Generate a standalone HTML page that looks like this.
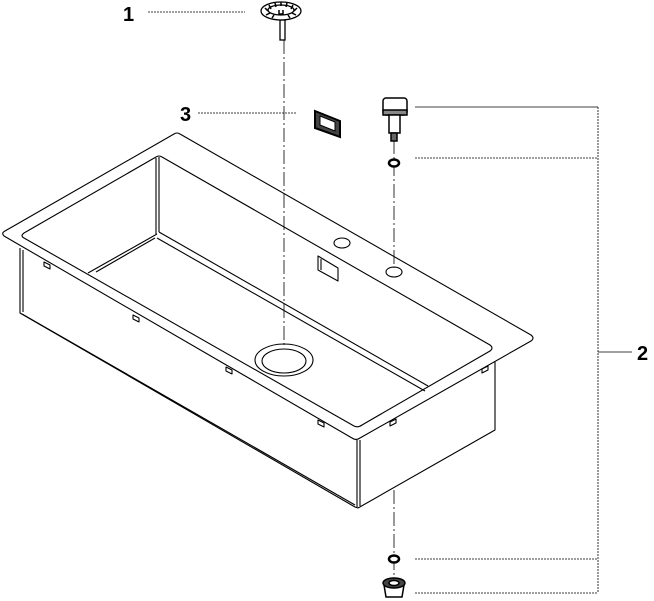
<!DOCTYPE html>
<html><head><style>
html,body{margin:0;padding:0;background:#fff;width:654px;height:601px;overflow:hidden}
svg{display:block}
text{font-family:"Liberation Sans",sans-serif;font-weight:bold;font-size:20px;fill:#000}
</style></head><body>
<svg width="654" height="601" viewBox="0 0 654 601" xmlns="http://www.w3.org/2000/svg">
<g fill="none" stroke="#000" stroke-width="1.1" stroke-linejoin="round">
<path d="M4,236 Q1,233 5,231 L174,134 Q177,132 180,134 L531,335 Q535,338 531,341 L360,438 Q356,441 352,438 Z"/>
<path d="M24,238 Q20,236 24,233 L156,157 Q159,155 162,157 L490,345 Q494,348 490,351 L362,425 Q358,428 354,426 Z"/>
<line x1="159" y1="157" x2="159" y2="232"/>
<line x1="156" y1="158" x2="156" y2="234"/>
<path d="M157,234 L88,273"/>
<path d="M159,232 L428,386"/>
<path d="M155,238 L96,272"/>
<path d="M157,238 L425,391"/>
<path d="M20,248 L20,313 L355,507 L358,508 L495,430 L495,362"/>
<path d="M23,250 L23,312"/>
<line x1="357" y1="440" x2="357" y2="507"/>
<line x1="360" y1="440" x2="360" y2="506"/>
<line x1="22" y1="314" x2="355" y2="505"/>
<ellipse cx="284" cy="360" rx="29" ry="16"/>
<ellipse cx="284" cy="361" rx="22" ry="12"/>
<ellipse cx="342" cy="243" rx="8" ry="5"/>
<ellipse cx="394" cy="272" rx="8" ry="5"/>
<path d="M318,256 L318,270 L338,281 L338,268 Z"/>
<path d="M321,259 L321,270"/>
<path d="M44,262 l6,3 0,4 -6,-3 z M133,315 l6,3 0,4 -6,-3 z M226,367 l6,3 0,4 -6,-3 z M318,420 l6,3 0,4 -6,-3 z M390,422 l6,-3 0,4 -6,3 z M482,369 l6,-3 0,4 -6,3 z"/>
</g>
<g fill="none" stroke="#000" stroke-width="0.8">
<line x1="284" y1="40" x2="284" y2="348" stroke-dasharray="14,3,2,3"/>
<line x1="394" y1="140" x2="394" y2="268" stroke-dasharray="14,3,2,3"/>
<line x1="394" y1="490" x2="394" y2="580" stroke-dasharray="14,3,2,3"/>
<line x1="148" y1="12" x2="245" y2="12" stroke-dasharray="2,1"/>
<line x1="198" y1="113" x2="296" y2="113" stroke-dasharray="2,1"/>
<line x1="415" y1="107" x2="598" y2="107"/>
<line x1="415" y1="158" x2="598" y2="158" stroke-dasharray="2,1"/>
<line x1="415" y1="559" x2="598" y2="559" stroke-dasharray="2,1"/>
<line x1="415" y1="593" x2="598" y2="593" stroke-dasharray="2,1"/>
<line x1="598" y1="107" x2="598" y2="593" stroke-dasharray="2,1"/>
<line x1="598" y1="352" x2="632" y2="352"/>
</g>
<g stroke="#000" fill="#fff" stroke-width="1.3">
<rect x="280" y="20" width="5" height="20" fill="#fff"/>
<ellipse cx="281" cy="11" rx="20" ry="9" fill="#fff"/>
<ellipse cx="281" cy="10" rx="13" ry="5" fill="#fff"/>
<path d="M265,8 l3,3 M269,5 l2,4 M275,3 l1,4 M281,2 l0,4 M287,3 l-1,4 M293,5 l-2,4 M297,8 l-3,3 M266,15 l4,-2 M296,15 l-4,-2 M272,18 l2,-3 M290,18 l-2,-3" stroke-width="1.5"/>
<path d="M279,10 l0,4 4,0 0,-4" stroke-width="1.5"/>
</g>
<g stroke="#000" stroke-width="2" fill="#fff">
<path d="M315,111 L340,121 L340,137 L315,128 Z" fill="#444"/>
<path d="M320,116 L335,122 L335,131 L320,125 Z" fill="#fff" stroke-width="1"/>
</g>
<g stroke="#000" stroke-width="1.5" fill="#fff">
<rect x="383" y="98" width="24" height="17" rx="3" fill="#fff"/>
<rect x="383" y="110" width="24" height="5" fill="#888"/>
<rect x="389" y="115" width="11" height="18"/>
<rect x="391" y="133" width="6" height="8" fill="#666"/>
<ellipse cx="394" cy="163" rx="5" ry="3.5" stroke-width="2.5"/>
<ellipse cx="394" cy="559" rx="5" ry="3.5" stroke-width="2.5"/>
<path d="M384,585 L404,585 L402,597 L386,597 Z" fill="#fff"/>
<ellipse cx="394" cy="583" rx="11" ry="5" fill="#444"/>
<ellipse cx="394" cy="583" rx="5" ry="2.5"/>
</g>
<text x="123" y="21">1</text>
<text x="180" y="121">3</text>
<text x="637" y="360">2</text>
</svg>
</body></html>
